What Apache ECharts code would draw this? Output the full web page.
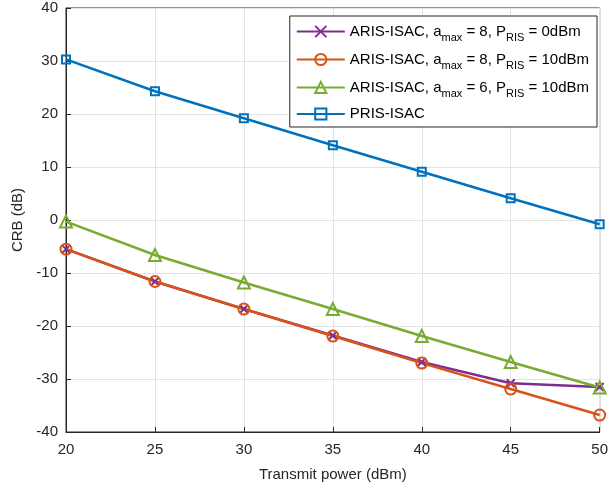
<!DOCTYPE html>
<html><head><meta charset="utf-8">
<script src="https://cdn.jsdelivr.net/npm/echarts@6/dist/echarts.min.js"></script>
<style>html,body{margin:0;padding:0;background:#fff}#c{width:611px;height:488px}</style>
</head><body><div id="c"></div>
<script>
var categories = [20, 25, 30, 35, 40, 45, 50];
var arisA8P0 = [-5.5, -11.6, -16.8, -21.8, -26.8, -30.8, -31.5];
var arisA8P10 = [-5.5, -11.6, -16.8, -21.9, -27.0, -31.9, -36.8];
var arisA6P10 = [-0.3, -6.6, -11.8, -16.8, -21.9, -26.8, -31.6];
var pris = [30.3, 24.3, 19.2, 14.1, 9.1, 4.1, -0.8];
var yTicks = [-40, -30, -20, -10, 0, 10, 20, 30, 40];

var names = ['a8p0', 'a8p10', 'a6p10', 'pris'];
var legendText = {
  a8p0: 'ARIS-ISAC, a{sub|max} = 8, P{sub|RIS} = 0dBm',
  a8p10: 'ARIS-ISAC, a{sub|max} = 8, P{sub|RIS} = 10dBm',
  a6p10: 'ARIS-ISAC, a{sub|max} = 6, P{sub|RIS} = 10dBm',
  pris: 'PRIS-ISAC'
};
function pairs(arr){ return categories.map(function(x,i){return [x, arr[i]];}); }
function mk(name, data, color, symbol, size){
  return {
    name: name, type: 'line', data: pairs(data),
    symbol: symbol, symbolSize: size, showAllSymbol: true,
    lineStyle: {color: color, width: 2.5},
    itemStyle: {color: 'rgba(255,255,255,0)', borderColor: color, borderWidth: 2},
    emphasis: {disabled: true}, z: 3
  };
}
var chart = echarts.init(document.getElementById('c'), null, {renderer: 'canvas'});
var font = 'Liberation Sans, Arial, sans-serif';
chart.setOption({
  animation: false,
  grid: {left: 66, right: 9, top: 8, bottom: 56, show: true, borderColor: '#262626', borderWidth: 1, backgroundColor: '#fff'},
  xAxis: {
    type: 'value', min: 20, max: 50, interval: 5,
    name: 'Transmit power (dBm)', nameLocation: 'middle', nameGap: 35,
    nameTextStyle: {fontFamily: font, fontSize: 15, color: '#262626'},
    axisLine: {onZero: false, lineStyle: {color: '#262626'}},
    axisTick: {inside: true, length: 5, lineStyle: {color: '#262626'}},
    axisLabel: {fontFamily: font, fontSize: 15, color: '#262626', margin: 10},
    splitLine: {show: true, lineStyle: {color: '#e3e3e3', width: 1}}
  },
  yAxis: {
    type: 'value', min: -40, max: 40, interval: 10,
    name: 'CRB (dB)', nameLocation: 'middle', nameGap: 40,
    nameTextStyle: {fontFamily: font, fontSize: 15, color: '#262626'},
    axisLine: {show: true, onZero: false, lineStyle: {color: '#262626'}},
    axisTick: {show: true, inside: true, length: 5, lineStyle: {color: '#262626'}},
    axisLabel: {fontFamily: font, fontSize: 15, color: '#262626', margin: 8},
    splitLine: {show: true, lineStyle: {color: '#e3e3e3', width: 1}}
  },
  legend: {
    right: 14, top: 16, orient: 'vertical',
    backgroundColor: '#fff', borderColor: '#262626', borderWidth: 1,
    padding: [4, 8, 3, 6], itemGap: 5, itemWidth: 48, itemHeight: 14,
    data: names,
    formatter: function(n){ return legendText[n]; },
    textStyle: {fontFamily: font, fontSize: 15, color: '#000', lineHeight: 20,
      rich: {sub: {fontFamily: font, fontSize: 11, color: '#000', lineHeight: 20, padding: [12, 0, 0, 0]}}}
  },
  series: [
    mk('a8p0', arisA8P0, '#7E2F8E', 'path://M0,0L10,10M10,0L0,10', 8),
    mk('a8p10', arisA8P10, '#D95319', 'circle', 11),
    mk('a6p10', arisA6P10, '#77AC30', 'triangle', 12),
    mk('pris', pris, '#0072BD', 'rect', 8)
  ]
});
</script></body></html>
